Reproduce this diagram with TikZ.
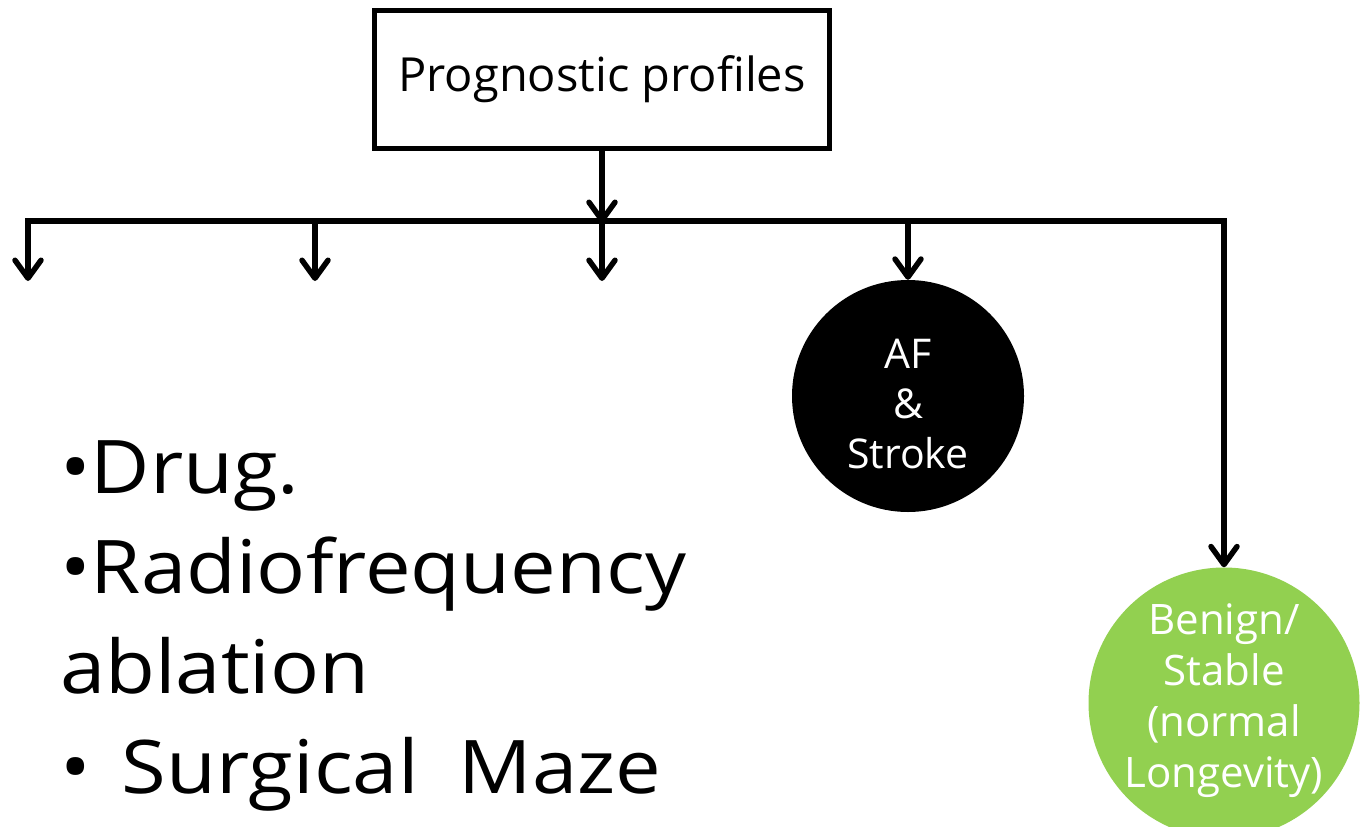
\documentclass[tikz,border=0pt]{standalone}
\usepackage{fontspec}
\setmainfont{Open Sans}
\newfontfamily\listfont[FakeStretch=1.1]{Open Sans}
\usetikzlibrary{arrows.meta}
\definecolor{leafgreen}{RGB}{146,208,80}
\begin{document}
\begin{tikzpicture}[x=1pt,y=-1pt,
  conn/.style={line width=5.5pt,line join=miter,-{Straight Barb[length=18pt,width=26pt,line cap=round,line join=round]}},
  topbox/.style={draw,line width=5pt,minimum width=455pt,minimum height=138pt,inner sep=0pt,font=\fontsize{47}{56}\selectfont},
  blob/.style={circle,inner sep=0pt},
  blobtext/.style={text=white,align=center,inner sep=0pt}]
\useasboundingbox (0,0) rectangle (1361,827);

\node[topbox] (root) at (602,79) {Prognostic profiles};

\node[blob,fill=black,minimum size=232pt] (af) at (908,396) {};
\node[blobtext,font=\fontsize{41}{50}\selectfont] (aftext) at (908,404) {AF\\\&\\Stroke};
\node[blob,fill=leafgreen,minimum size=271pt] (benign) at (1224,703) {};
\node[blobtext,font=\fontsize{42}{51}\selectfont] (benigntext) at (1224,701) {Benign/\\Stable\\(normal\\Longevity)};

% distribution bar and branch arrows
\coordinate (barM) at (602,221);
\coordinate (b1) at (28,281);
\coordinate (b2) at (315,281);
\coordinate (b3) at (602,281);

\draw[conn] (root.south) -- ([yshift=-2pt]barM);
\draw[conn] (barM) -| (b1);
\draw[conn] (barM) -| (benign.north);
\draw[conn] (b2 |- barM) -- (b2);
\draw[conn] (b3 |- barM) -- (b3);
\draw[conn] (af.north |- barM) -- (af.north);

% treatment list
\node[anchor=north west,align=left,inner sep=0pt,font=\listfont\fontsize{74}{100}\selectfont] (tx) at (60,440)
  {•Drug.\\•Radiofrequency\\ablation\\•\hspace{31pt}Surgical\hspace{40pt}Maze};
\end{tikzpicture}
\end{document}
